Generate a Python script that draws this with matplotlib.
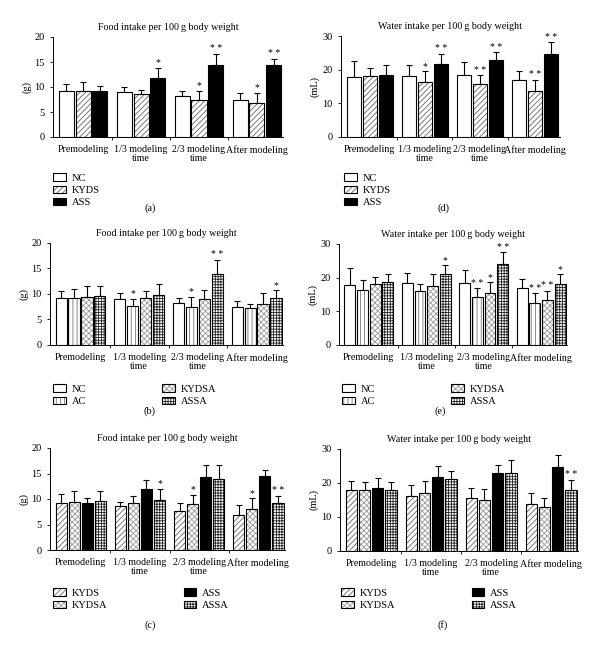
import matplotlib
matplotlib.use("Agg")
import matplotlib.pyplot as plt
import numpy as np
from matplotlib.patches import Patch

plt.rcParams['font.family'] = ['Liberation Serif', 'DejaVu Serif']
plt.rcParams['font.size'] = 7
plt.rcParams['hatch.linewidth'] = 0.6

periods = ['Premodeling', '1/3 modeling\ntime', '2/3 modeling\ntime', 'After modeling']

# (a) food intake, NC / KYDS / ASS
food_a = {'NC': [9.2, 9.0, 8.2, 7.5], 'KYDS': [9.3, 8.6, 7.5, 6.8], 'ASS': [9.2, 11.9, 14.4, 14.5]}
food_a_top = {'NC': [10.6, 10.1, 9.2, 8.8], 'KYDS': [11.0, 9.4, 9.2, 8.8], 'ASS': [10.2, 13.8, 16.7, 15.7]}
food_a_sig = {'NC': ['', '', '', ''], 'KYDS': ['', '', '*', '*'], 'ASS': ['', '*', '**', '**']}

# (d) water intake, NC / KYDS / ASS
water_d = {'NC': [17.9, 18.2, 18.5, 16.8], 'KYDS': [18.0, 16.2, 15.6, 13.7], 'ASS': [18.3, 21.6, 22.9, 24.7]}
water_d_top = {'NC': [22.7, 21.3, 22.3, 19.6], 'KYDS': [20.5, 19.5, 18.4, 17.0], 'ASS': [21.4, 24.8, 25.2, 28.2]}
water_d_sig = {'NC': ['', '', '', ''], 'KYDS': ['', '*', '**', '**'], 'ASS': ['', '**', '**', '**']}

# (b) food intake, NC / AC / KYDSA / ASSA
food_b = {'NC': [9.2, 9.0, 8.3, 7.5], 'AC': [9.2, 7.7, 7.4, 7.2], 'KYDSA': [9.4, 9.2, 9.0, 8.0], 'ASSA': [9.6, 9.9, 13.9, 9.2]}
food_b_top = {'NC': [10.6, 10.1, 9.2, 8.7], 'AC': [11.0, 9.0, 9.5, 8.1], 'KYDSA': [11.5, 10.5, 10.8, 10.1], 'ASSA': [11.5, 12.0, 16.7, 10.7]}
food_b_sig = {'NC': ['', '', '', ''], 'AC': ['', '*', '*', ''], 'KYDSA': ['', '', '', ''], 'ASSA': ['', '', '**', '*']}

# (e) water intake, NC / AC / KYDSA / ASSA
water_e = {'NC': [17.9, 18.3, 18.5, 16.8], 'AC': [16.2, 16.0, 14.3, 12.4], 'KYDSA': [18.1, 17.6, 15.4, 13.3], 'ASSA': [18.6, 21.2, 24.0, 18.1]}
water_e_top = {'NC': [22.8, 21.3, 22.3, 19.6], 'AC': [19.4, 18.0, 16.9, 15.4], 'KYDSA': [20.2, 21.1, 18.6, 16.1], 'ASSA': [21.0, 23.7, 27.6, 21.0]}
water_e_sig = {'NC': ['', '', '', ''], 'AC': ['', '', '**', '**'], 'KYDSA': ['', '', '*', '**'], 'ASSA': ['', '*', '**', '*']}

# (c) food intake, KYDS / KYDSA / ASS / ASSA
food_c = {'KYDS': [9.3, 8.6, 7.6, 6.8], 'KYDSA': [9.4, 9.2, 9.0, 8.1], 'ASS': [9.2, 11.9, 14.4, 14.5], 'ASSA': [9.6, 9.9, 13.9, 9.2]}
food_c_top = {'KYDS': [11.0, 9.4, 9.2, 8.8], 'KYDSA': [11.5, 10.5, 10.8, 10.1], 'ASS': [10.2, 13.8, 16.7, 15.7], 'ASSA': [11.5, 12.0, 16.7, 10.6]}
food_c_sig = {'KYDS': ['', '', '', ''], 'KYDSA': ['', '', '*', '*'], 'ASS': ['', '', '', ''], 'ASSA': ['', '*', '', '**']}

# (f) water intake, KYDS / KYDSA / ASS / ASSA
water_f = {'KYDS': [18.0, 16.2, 15.5, 13.7], 'KYDSA': [18.0, 17.0, 15.0, 12.9], 'ASS': [18.4, 21.7, 22.9, 24.7], 'ASSA': [17.9, 21.1, 23.0, 18.0]}
water_f_top = {'KYDS': [20.5, 19.4, 18.4, 17.0], 'KYDSA': [20.3, 20.5, 18.1, 15.6], 'ASS': [21.4, 24.9, 25.2, 28.2], 'ASSA': [20.4, 23.5, 26.7, 20.9]}
water_f_sig = {'KYDS': ['', '', '', ''], 'KYDSA': ['', '', '', ''], 'ASS': ['', '', '', ''], 'ASSA': ['', '', '', '**']}

# fill style per group: (facecolor, hatch, hatch colour)
styles = {
    'NC': ('white', None, 'black'),
    'KYDS': ('white', '//////', '#666666'),
    'ASS': ('black', None, 'black'),
    'AC': ('white', '||||', '#777777'),
    'KYDSA': ('white', 'xxxxxx', '#999999'),
    'ASSA': ('white', '++++++', '#222222'),
}


def draw_panel(ax, data, tops, sigs, ymax, ystep, ylabel, title):
    names = list(data.keys())
    n = len(names)
    x = np.arange(len(periods))
    if n == 3:
        width, step = 0.26, 0.29
    else:
        width, step = 0.19, 0.22
    for i, name in enumerate(names):
        pos = x + (i - (n - 1) / 2) * step
        fc, hatch, hc = styles[name]
        if hatch:
            ax.bar(pos, data[name], width, color=fc, hatch=hatch, edgecolor=hc, linewidth=0, zorder=2)
            ax.bar(pos, data[name], width, fill=False, edgecolor='black', linewidth=0.8, zorder=3)
        else:
            ax.bar(pos, data[name], width, color=fc, edgecolor='black', linewidth=0.8, zorder=3)
        vals = np.array(data[name])
        up = np.array(tops[name]) - vals
        ax.errorbar(pos, vals, yerr=[np.zeros_like(up), up], fmt='none', ecolor='black',
                    elinewidth=0.8, capsize=2.5, capthick=0.8, zorder=1)
        for p, t, s in zip(pos, tops[name], sigs[name]):
            if s:
                ax.text(p, t + ymax * 0.005, ' '.join(s), ha='center', va='bottom', fontsize=7)
    ax.set_xlim(-0.52, 3.45)
    ax.set_ylim(0, ymax)
    ax.set_yticks(np.arange(0, ymax + 0.1, ystep))
    ax.set_xticks(x)
    ax.set_xticklabels(periods, linespacing=1.0)
    ax.set_xticks([0.5, 1.5, 2.5], minor=True)
    ax.tick_params(axis='x', which='major', length=0, pad=6, labelsize=7.2)
    ax.tick_params(axis='x', which='minor', length=2, width=0.6)
    ax.tick_params(axis='y', length=2.5, width=0.6, labelsize=7.5)
    ax.spines['top'].set_visible(False)
    ax.spines['right'].set_visible(False)
    ax.spines['left'].set_linewidth(0.7)
    ax.spines['bottom'].set_linewidth(0.7)
    ax.set_ylabel(ylabel, fontsize=7.5, labelpad=2)
    ax.set_title(title, fontsize=7.2, pad=5)


def legend_handles(names):
    handles = []
    for name in names:
        fc, hatch, hc = styles[name]
        if hatch:
            handles.append((Patch(facecolor=fc, hatch=hatch, edgecolor=hc, linewidth=0),
                            Patch(fill=False, edgecolor='black', linewidth=0.8)))
        else:
            handles.append(Patch(facecolor=fc, edgecolor='black', linewidth=0.8))
    return handles


fig = plt.figure(figsize=(6.0, 6.46), dpi=100)
W, H = 600.0, 646.0

food_title = 'Food intake per 100\u2009g body weight'
water_title = 'Water intake per 100\u2009g body weight'

panels = [
    # data, tops, sigs, ymax, step, ylabel, title, [left, top, right, bottom] px, legend spec, label
    (food_a, food_a_top, food_a_sig, 20, 5, '(g)', food_title, [53, 37, 283, 137], (46, 166, 1), '(a)', (150, 208)),
    (water_d, water_d_top, water_d_sig, 30, 10, '(mL)', water_title, [341, 36, 560, 137], (337, 166, 1), '(d)', (443, 208)),
    (food_b, food_b_top, food_b_sig, 20, 5, '(g)', food_title, [50, 243, 283, 345], (46, 377, 2), '(b)', (150, 411)),
    (water_e, water_e_top, water_e_sig, 30, 10, '(mL)', water_title, [339, 244, 567, 345], (335, 377, 2), '(e)', (440, 411)),
    (food_c, food_c_top, food_c_sig, 20, 5, '(g)', food_title, [50, 448, 285, 550], (46, 581, 2), '(c)', (150, 625)),
    (water_f, water_f_top, water_f_sig, 30, 10, '(mL)', water_title, [340, 449, 578, 551], (334, 581, 2), '(f)', (443, 625)),
]

for data, tops, sigs, ymax, step, ylabel, title, box, leg, label, lpos in panels:
    l, t, r, b = box
    ax = fig.add_axes([l / W, 1 - b / H, (r - l) / W, (b - t) / H])
    draw_panel(ax, data, tops, sigs, ymax, step, ylabel, title)
    names = list(data.keys())
    lx, ly, ncol = leg
    fig.legend(legend_handles(names), names, loc='upper left',
               bbox_to_anchor=(lx / W, 1 - ly / H), bbox_transform=fig.transFigure,
               ncol=ncol, frameon=False, fontsize=7.5, handlelength=1.2, handleheight=0.7,
               handletextpad=0.6, labelspacing=0.3, columnspacing=7.3, borderpad=0.2)
    fig.text(lpos[0] / W, 1 - lpos[1] / H, label, ha='center', va='center', fontsize=7.5)

fig.savefig('out.png', dpi=100)
